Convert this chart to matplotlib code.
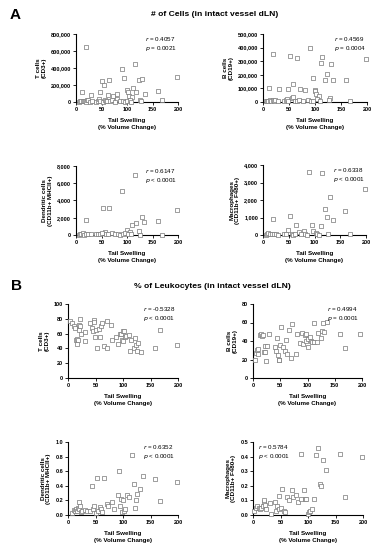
import matplotlib
matplotlib.use('Agg')
import matplotlib.pyplot as plt
import matplotlib.ticker as ticker

plt.rcParams['font.family'] = ['Liberation Sans', 'DejaVu Sans']

# ---- A: # of cells (in intact vessel dLN) ----
a_t_x = [20, 12, 30, 48, 50, 55, 65, 72, 80, 80, 90, 95, 100, 102, 104, 110, 112, 115, 118, 124,
         130, 135, 160, 168, 198, 5, 8, 10, 14, 16, 18, 20, 22, 24, 28, 32, 40, 44, 46, 48,
         52, 56, 58, 60, 62, 66, 70, 76, 86, 92, 96, 100, 106, 108, 126, 128]
a_t_y = [650, 115, 85, 120, 250, 195, 260, 65, 90, 30, 390, 280, 140, 120, 70, 60, 170, 450, 120, 260,
         265, 90, 130, 20, 300, 5, 8, 10, 12, 8, 15, 5, 20, 25, 5, 10, 5, 15, 30, 10,
         5, 20, 8, 15, 80, 10, 25, 5, 10, 15, 5, 10, 20, 5, 20, 10]

a_b_x = [20, 12, 30, 48, 52, 58, 65, 72, 80, 90, 96, 100, 100, 102, 108, 112, 114, 120, 124, 130,
         134, 160, 168, 128, 198, 5, 8, 10, 14, 16, 20, 22, 24, 28, 40, 44, 46, 48, 56, 58,
         62, 66, 70, 76, 86, 92, 96, 104, 110, 126]
a_b_y = [350, 105, 95, 95, 335, 135, 320, 95, 90, 400, 175, 90, 80, 60, 45, 290, 330, 160, 205, 280,
         165, 160, 10, 30, 315, 5, 10, 8, 12, 5, 15, 10, 18, 5, 8, 12, 20, 5, 30, 40,
         10, 5, 15, 8, 12, 5, 10, 20, 5, 15]

a_dc_x = [20, 52, 65, 90, 115, 110, 118, 124, 130, 134, 160, 168, 198, 100, 106, 56, 5, 8, 10, 14,
          16, 20, 24, 30, 40, 44, 48, 50, 58, 62, 70, 76, 82, 86, 92, 96, 102, 108, 126]
a_dc_y = [1700, 3150, 3100, 5100, 7000, 1200, 1400, 500, 2050, 1450, 1650, 50, 2950, 600, 300, 350, 50, 100, 80, 200,
          50, 120, 100, 60, 150, 80, 100, 200, 100, 80, 200, 150, 100, 50, 100, 200, 150, 100, 50]

a_mac_x = [20, 52, 48, 65, 70, 80, 90, 96, 98, 102, 112, 115, 120, 124, 130, 136, 160, 168, 198, 5,
           8, 10, 14, 18, 22, 26, 30, 40, 44, 56, 58, 62, 74, 82, 86, 104, 108, 126]
a_mac_y = [900, 1100, 300, 600, 200, 250, 3600, 550, 250, 100, 500, 3550, 1500, 1050, 2200, 850, 1400, 50, 2650, 20,
           50, 100, 80, 40, 30, 60, 20, 40, 30, 60, 20, 50, 40, 30, 20, 50, 20, 80]

# ---- B: % of leukocytes (in intact vessel dLN) ----
b_t_x = [3, 8, 10, 12, 14, 16, 17, 18, 20, 20, 22, 22, 24, 30, 30, 40, 44, 46, 47, 48,
         49, 50, 52, 57, 58, 60, 62, 66, 70, 70, 78, 80, 88, 90, 94, 96, 98, 100, 100, 102,
         104, 106, 110, 112, 115, 120, 122, 124, 126, 128, 132, 158, 168, 198]
b_t_y = [77, 74, 70, 68, 52, 46, 53, 52, 72, 65, 80, 70, 60, 62, 50, 74, 68, 64, 78, 76,
         56, 65, 40, 66, 56, 70, 74, 43, 77, 41, 72, 51, 56, 46, 59, 60, 51, 50, 63, 64,
         55, 57, 58, 36, 52, 40, 54, 45, 37, 47, 35, 41, 65, 45]

b_b_x = [3, 6, 8, 9, 10, 12, 14, 16, 18, 20, 22, 22, 23, 26, 30, 40, 42, 44, 46, 48,
         48, 50, 52, 55, 58, 60, 62, 66, 70, 72, 78, 80, 86, 90, 92, 96, 98, 98, 100, 100,
         104, 106, 108, 112, 112, 118, 120, 124, 126, 128, 130, 136, 160, 168, 197]
b_b_y = [20, 27, 30, 31, 26, 47, 48, 45, 46, 28, 35, 28, 18, 35, 48, 34, 29, 43, 25, 20,
         19, 36, 55, 33, 29, 41, 26, 52, 22, 58, 26, 48, 38, 49, 37, 47, 40, 48, 42, 33,
         44, 40, 39, 60, 39, 39, 49, 43, 51, 59, 50, 61, 48, 32, 48]

b_dc_x = [8, 10, 12, 14, 16, 18, 20, 20, 22, 24, 26, 30, 34, 40, 44, 46, 48, 50, 52, 55,
          58, 60, 62, 66, 70, 72, 80, 84, 90, 92, 94, 96, 98, 100, 102, 104, 108, 110, 116, 120,
          122, 124, 126, 130, 136, 158, 168, 198]
b_dc_y = [0.03, 0.07, 0.05, 0.08, 0.06, 0.10, 0.18, 0.08, 0.12, 0.04, 0.06, 0.07, 0.05, 0.06, 0.40, 0.08, 0.12, 0.03, 0.51, 0.06,
          0.11, 0.08, 0.04, 0.51, 0.15, 0.12, 0.18, 0.08, 0.27, 0.60, 0.12, 0.22, 0.04, 0.21, 0.06, 0.08, 0.28, 0.25, 0.82, 0.43,
          0.10, 0.21, 0.29, 0.36, 0.53, 0.50, 0.19, 0.45]

b_mac_x = [2, 5, 8, 10, 12, 14, 18, 20, 20, 22, 24, 30, 32, 40, 42, 44, 48, 48, 50, 52,
           56, 58, 62, 66, 70, 72, 78, 82, 88, 88, 92, 94, 96, 100, 102, 104, 108, 110, 114, 118,
           122, 124, 128, 132, 158, 168, 198]
b_mac_y = [0.03, 0.05, 0.06, 0.05, 0.04, 0.05, 0.06, 0.09, 0.10, 0.07, 0.04, 0.085, 0.01, 0.09, 0.03, 0.06, 0.13, 0.04, 0.05, 0.18,
           0.03, 0.02, 0.12, 0.10, 0.17, 0.12, 0.14, 0.09, 0.42, 0.11, 0.17, 0.11, 0.11, 0.01, 0.02, 0.03, 0.04, 0.11, 0.41, 0.46,
           0.21, 0.20, 0.38, 0.31, 0.42, 0.12, 0.40]

W, H = 381, 550
fig = plt.figure(figsize=(W / 100, H / 100), dpi=100)


def box(l, t, r, b):
    return [l / W, 1 - b / H, (r - l) / W, (b - t) / H]


def panel(rect, x, y, ymax, ystep, ylabel, r_txt, p_txt, fmt, ann_left=False, scale=1):
    ax = fig.add_axes(box(*rect))
    ax.scatter(x, [v * scale for v in y], marker='s', s=8, facecolors='white',
               edgecolors='#777777', linewidths=0.5, zorder=3, clip_on=False)
    ax.set_xlim(0, 200)
    ax.set_ylim(0, ymax)
    ax.set_xticks([0, 50, 100, 150, 200])
    ax.yaxis.set_major_locator(ticker.MultipleLocator(ystep))
    ax.yaxis.set_major_formatter(ticker.FuncFormatter(fmt))
    for s in ['top', 'right']:
        ax.spines[s].set_visible(False)
    for s in ['left', 'bottom']:
        ax.spines[s].set_linewidth(0.8)
    ax.tick_params(labelsize=4, length=2, width=0.6, pad=1.5)
    for lab in ax.get_xticklabels() + ax.get_yticklabels():
        lab.set_fontweight('bold')
    ax.set_ylabel(ylabel, fontsize=4.5, fontweight='bold', labelpad=3, linespacing=1.1)
    ax.set_xlabel('Tail Swelling\n(% Volume Change)', fontsize=4.5, fontweight='bold',
                  labelpad=4.5, linespacing=1.4)
    xt = 0.05 if ann_left else 0.68
    ax.text(xt, 0.98, r'$r$ = ' + r_txt, transform=ax.transAxes, fontsize=4.5, va='top')
    ax.text(xt, 0.86, r'$p$ ' + p_txt, transform=ax.transAxes, fontsize=4.5, va='top')
    return ax


comma = lambda v, pos: f'{int(v):,}'
integer = lambda v, pos: f'{int(v)}'
one_dec = lambda v, pos: f'{v:.1f}'

panel((76, 34, 178, 102), a_t_x, a_t_y, 800000, 200000, 'T cells\n(CD3+)',
      '0.4057', '= 0.0021', comma, scale=1000)
panel((263, 34, 367, 102), a_b_x, a_b_y, 500000, 100000, 'B cells\n(CD19+)',
      '0.4569', '= 0.0004', comma, scale=1000)
panel((76, 166, 178, 235), a_dc_x, a_dc_y, 8000, 2000, 'Dendritic cells\n(CD11b+ MHCII+)',
      '0.6147', '< 0.0001', comma)
panel((263, 165, 366, 235), a_mac_x, a_mac_y, 4000, 1000, 'Macrophages\n(CD11b+ F480+)',
      '0.6338', '< 0.0001', comma)

panel((68, 304, 178, 378), b_t_x, b_t_y, 100, 20, 'T cells\n(CD3+)',
      '-0.5328', '< 0.0001', integer)
panel((253, 304, 362, 378), b_b_x, b_b_y, 80, 20, 'B cells\n(CD19+)',
      '0.4994', '= 0.0001', integer)
panel((68, 442, 178, 515), b_dc_x, b_dc_y, 1.0, 0.2, 'Dendritic cells\n(CD11b+ MHCII+)',
      '0.6352', '< 0.0001', one_dec)
panel((253, 442, 363, 515), b_mac_x, b_mac_y, 0.5, 0.1, 'Macrophages\n(CD11b+ F480+)',
      '0.5784', '< 0.0001', one_dec, ann_left=True)

fig.text(10 / W, 1 - 15 / H, 'A', fontsize=11, fontweight='bold', va='center')
fig.text(215 / W, 1 - 15 / H, '# of Cells (in intact vessel dLN)', fontsize=6.1,
         fontweight='bold', ha='center', va='center')
fig.text(11 / W, 1 - 286 / H, 'B', fontsize=11, fontweight='bold', va='center')
fig.text(212 / W, 1 - 286 / H, '% of Leukocytes (in intact vessel dLN)', fontsize=6.1,
         fontweight='bold', ha='center', va='center')

fig.savefig('out.png', dpi=100)
